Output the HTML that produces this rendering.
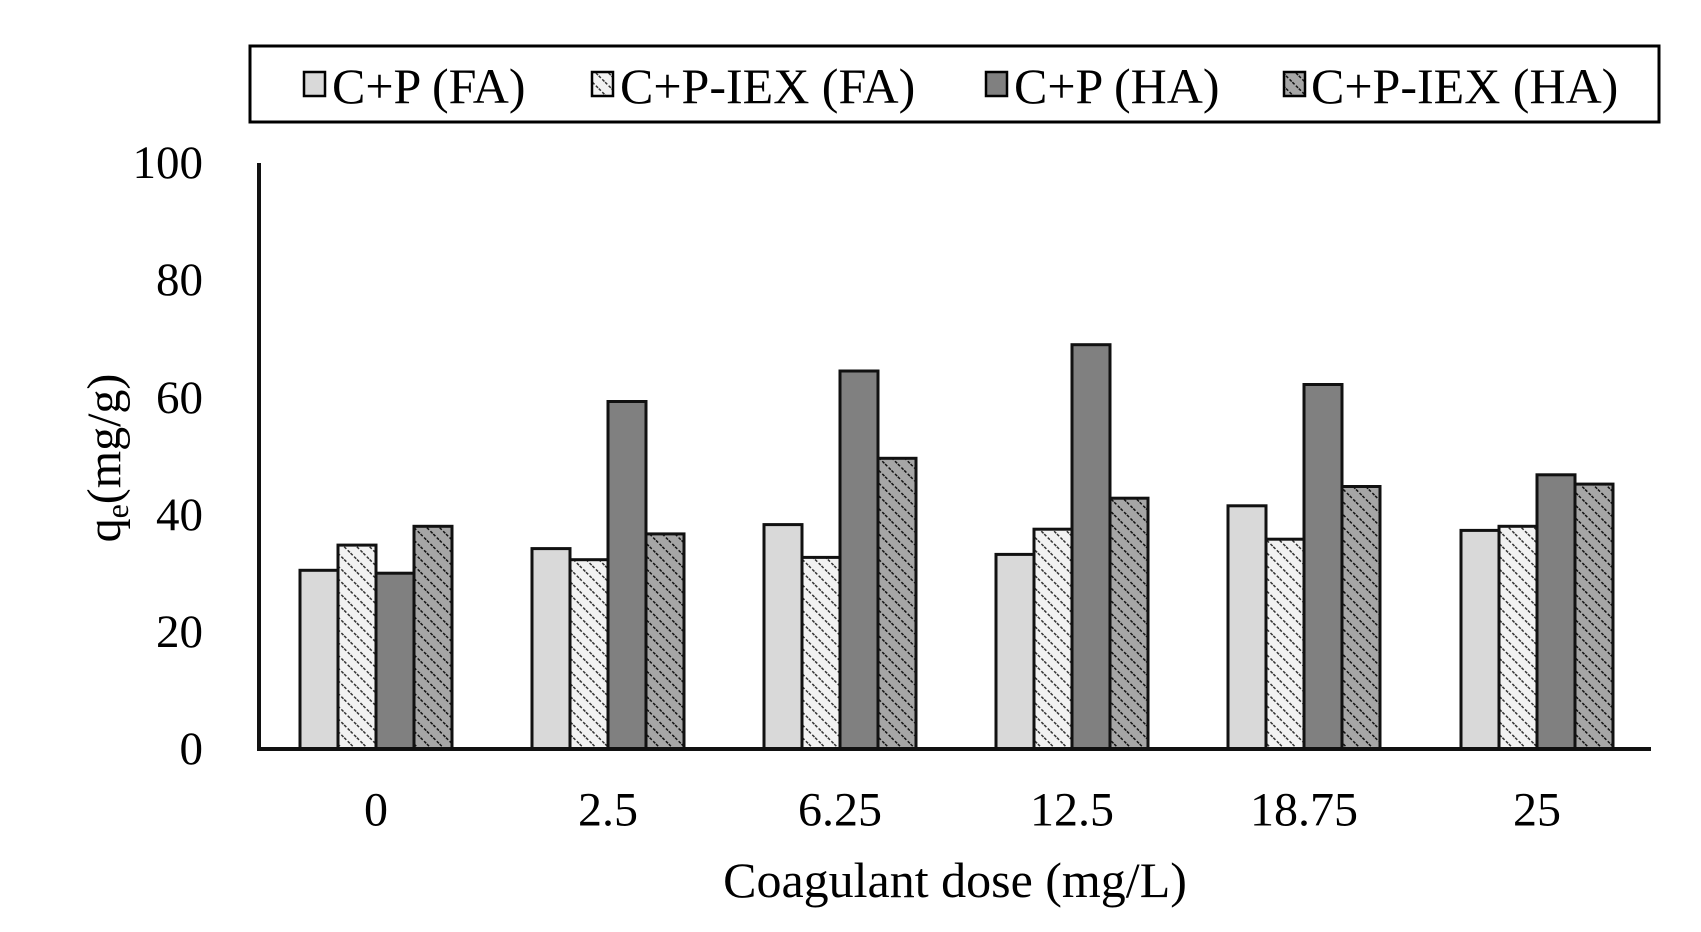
<!DOCTYPE html>
<html><head><meta charset="utf-8"><style>body{margin:0;background:#fff}</style></head><body>
<svg width="1701" height="927" viewBox="0 0 1701 927" xmlns="http://www.w3.org/2000/svg" font-family="Liberation Serif, serif">
<defs>
<pattern id="h1" width="9" height="9" patternUnits="userSpaceOnUse" patternTransform="rotate(-45)">
<rect width="9" height="9" fill="#f2f2f2"/><line x1="0" y1="0" x2="0" y2="9" stroke="#333" stroke-width="3" stroke-dasharray="3 2"/></pattern>
<pattern id="h2" width="9" height="9" patternUnits="userSpaceOnUse" patternTransform="rotate(-45)">
<rect width="9" height="9" fill="#a6a6a6"/><line x1="0" y1="0" x2="0" y2="9" stroke="#111" stroke-width="3" stroke-dasharray="3 2"/></pattern>
</defs>
<rect x="250" y="46" width="1409" height="76" fill="#fff" stroke="#000" stroke-width="3"/>
<g font-size="50" dominant-baseline="central">
<rect x="304" y="72" width="21" height="24" fill="#d9d9d9" stroke="#000" stroke-width="2.5"/>
<text x="332" y="86">C+P (FA)</text>
<rect x="592" y="72" width="21" height="24" fill="url(#h1)" stroke="#000" stroke-width="2.5"/>
<text x="620" y="86">C+P-IEX (FA)</text>
<rect x="986" y="72" width="21" height="24" fill="#808080" stroke="#000" stroke-width="2.5"/>
<text x="1014" y="86">C+P (HA)</text>
<rect x="1284" y="72" width="21" height="24" fill="url(#h2)" stroke="#000" stroke-width="2.5"/>
<text x="1311" y="86">C+P-IEX (HA)</text>
</g>
<g font-size="47" text-anchor="end" dominant-baseline="central">
<text x="203" y="163">100</text><text x="203" y="280">80</text><text x="203" y="398">60</text>
<text x="203" y="515">40</text><text x="203" y="632">20</text><text x="203" y="749">0</text>
</g>
<g stroke="#111" stroke-width="3">
<rect x="300" y="570.3" width="38" height="178.7" fill="#d9d9d9"/>
<rect x="338" y="545.1" width="38" height="203.9" fill="url(#h1)"/>
<rect x="376" y="573.2" width="38" height="175.8" fill="#808080"/>
<rect x="414" y="526.3" width="38" height="222.7" fill="url(#h2)"/>
<rect x="532" y="548.6" width="38" height="200.4" fill="#d9d9d9"/>
<rect x="570" y="559.7" width="38" height="189.3" fill="url(#h1)"/>
<rect x="608" y="401.5" width="38" height="347.5" fill="#808080"/>
<rect x="646" y="533.9" width="38" height="215.1" fill="url(#h2)"/>
<rect x="764" y="524.6" width="38" height="224.4" fill="#d9d9d9"/>
<rect x="802" y="557.4" width="38" height="191.6" fill="url(#h1)"/>
<rect x="840" y="371" width="38" height="378" fill="#808080"/>
<rect x="878" y="458.3" width="38" height="290.7" fill="url(#h2)"/>
<rect x="996" y="554.4" width="38" height="194.6" fill="#d9d9d9"/>
<rect x="1034" y="529.2" width="38" height="219.8" fill="url(#h1)"/>
<rect x="1072" y="344.7" width="38" height="404.3" fill="#808080"/>
<rect x="1110" y="498.2" width="38" height="250.8" fill="url(#h2)"/>
<rect x="1228" y="505.8" width="38" height="243.2" fill="#d9d9d9"/>
<rect x="1266" y="539.2" width="38" height="209.8" fill="url(#h1)"/>
<rect x="1304" y="384.5" width="38" height="364.5" fill="#808080"/>
<rect x="1342" y="486.5" width="38" height="262.5" fill="url(#h2)"/>
<rect x="1461" y="530.4" width="38" height="218.6" fill="#d9d9d9"/>
<rect x="1499" y="526.3" width="38" height="222.7" fill="url(#h1)"/>
<rect x="1537" y="474.8" width="38" height="274.2" fill="#808080"/>
<rect x="1575" y="484.1" width="38" height="264.9" fill="url(#h2)"/>
</g>
<line x1="259" y1="163" x2="259" y2="750" stroke="#111" stroke-width="4"/>
<line x1="257" y1="749" x2="1651" y2="749" stroke="#111" stroke-width="4"/>
<g font-size="48" text-anchor="middle" dominant-baseline="central">
<text x="376" y="810">0</text><text x="608" y="810">2.5</text><text x="840" y="810">6.25</text>
<text x="1072" y="810">12.5</text><text x="1304" y="810">18.75</text><text x="1537" y="810">25</text>
<text x="955" y="880" font-size="50">Coagulant dose (mg/L)</text>
</g>
<text transform="translate(120,458) rotate(-90)" font-size="48" text-anchor="middle">q<tspan font-size="32" dy="8">e</tspan><tspan dy="-8">(mg/g)</tspan></text>
</svg>
</body></html>
